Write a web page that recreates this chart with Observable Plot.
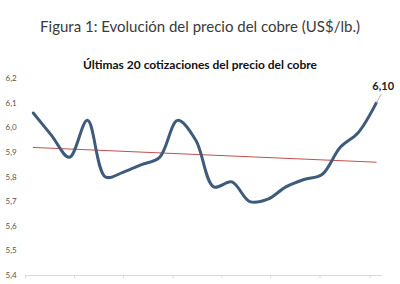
<!DOCTYPE html>
<html><head><meta charset="utf-8">
<script src="https://cdn.jsdelivr.net/npm/d3@7"></script>
<script src="https://cdn.jsdelivr.net/npm/@observablehq/plot@0.6"></script>
<style>
body{margin:0;background:#fff;}
#wrap{position:relative;width:400px;height:284px;overflow:hidden;}
#t1{position:absolute;left:0;top:17px;width:400px;text-align:center;font:15px Lato,"Open Sans",sans-serif;color:#3a3a3a;white-space:nowrap;}
#t2{position:absolute;left:0;top:57px;width:400px;text-align:center;font:bold 12px Lato,"Open Sans",sans-serif;color:#111;white-space:nowrap;}
#chart{position:absolute;left:0;top:0;}
</style></head>
<body>
<div id="wrap">
<div id="chart"></div>
<div id="t1">Figura 1: Evolución del precio del cobre (US$/lb.)</div>
<div id="t2">Últimas 20 cotizaciones del precio del cobre</div>
</div>
<script>
const cotizacion = [1,2,3,4,5,6,7,8,9,10,11,12,13,14,15,16,17,18,19,20];
const precio = [6.06,5.97,5.88,6.03,5.80,5.82,5.85,5.88,6.03,5.95,5.76,5.78,5.70,5.71,5.76,5.79,5.81,5.92,5.98,6.10];
const tendenciaX = [1,20];
const tendencia = [5.92,5.86];
const yTicks = [5.4,5.5,5.6,5.7,5.8,5.9,6.0,6.1,6.2];
const yTickLabels = ["5,4","5,5","5,6","5,7","5,8","5,9","6,0","6,1","6,2"];
const xTicks = [0.57,3.29,6.0,8.75,11.46,14.15,16.89,19.66];
const etiqueta = ["6,10"];

const last = cotizacion.length - 1;
const chart = Plot.plot({
  width: 400, height: 284,
  marginTop: 78, marginBottom: 9, marginLeft: 25, marginRight: 18,
  style: {background: "transparent", fontFamily: "Lato, 'Open Sans', sans-serif"},
  x: {domain: [0.57, 20.35]},
  y: {domain: [5.4, 6.2], axis: null},
  marks: [
    Plot.ruleY([5.4], {stroke: "#d9d9d9", strokeWidth: 1}),
    Plot.axisX(xTicks, {tickSize: 3, tickFormat: () => "", stroke: "#d9d9d9"}),
    Plot.text(yTicks, {y: d => d, text: (d, i) => yTickLabels[i], frameAnchor: "left", dx: -20, textAnchor: "start", fontSize: 8, fill: "#555"}),
    Plot.line(tendencia, {x: tendenciaX, y: tendencia, stroke: "#c0504d", strokeWidth: 1}),
    Plot.line(precio, {x: cotizacion, y: precio, curve: "catmull-rom", stroke: "#3f5b7c", strokeWidth: 3}),
    Plot.vector(etiqueta, {x: [cotizacion[last]], y: [precio[last]], length: 10, rotate: 30, anchor: "start", stroke: "#bbb", strokeWidth: 1,
      shape: {draw(ctx, l) { ctx.moveTo(0, -1); ctx.lineTo(0, -l); }}}),
    Plot.text(etiqueta, {x: [cotizacion[last]], y: [precio[last]], text: d => d, dx: 7, dy: -17, fontSize: 11, fontWeight: "bold", fill: "#222"})
  ]
});
document.getElementById("chart").append(chart);
</script>
</body></html>
